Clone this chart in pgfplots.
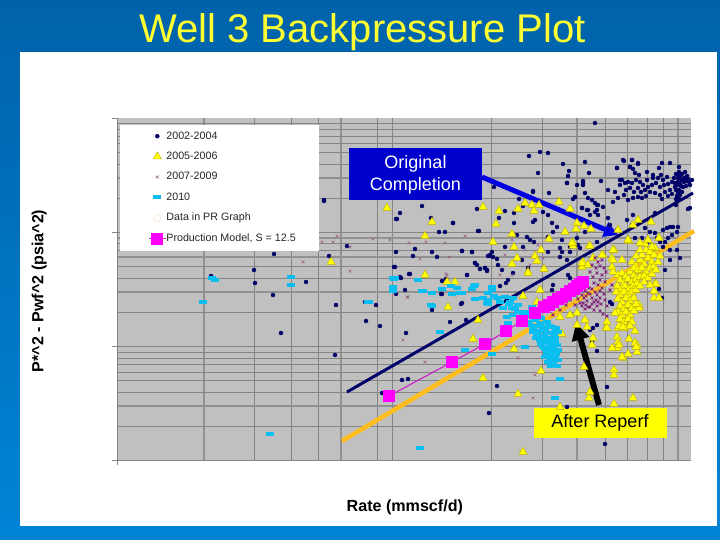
\documentclass[border=0pt]{standalone}
\usepackage{fontspec}
\setmainfont{Liberation Sans}
\usepackage{pgfplots}
\pgfplotsset{compat=1.18}
\usetikzlibrary{arrows.meta}

\definecolor{plotbg}{RGB}{192,192,192}
\definecolor{gridc}{RGB}{132,132,132}
\definecolor{gridh}{RGB}{145,145,145}
\definecolor{navyp}{RGB}{0,0,105}
\definecolor{yellowp}{RGB}{255,255,0}
\definecolor{yedge}{RGB}{190,175,10}
\definecolor{purplep}{RGB}{150,100,140}
\definecolor{purpled}{RGB}{130,35,125}
\definecolor{cyanp}{RGB}{10,190,240}
\definecolor{orangel}{RGB}{255,190,30}
\definecolor{arrowb}{RGB}{0,0,225}
\definecolor{boxb}{RGB}{0,0,205}
\definecolor{titley}{RGB}{255,255,50}
\definecolor{magentap}{RGB}{255,0,255}
\definecolor{magental}{RGB}{205,30,205}

% cyan dash of the 2010 series
\pgfdeclareplotmark{dash}{\pgfpathrectangle{\pgfpoint{-4pt}{-2pt}}{\pgfpoint{8pt}{4pt}}\pgfusepathqfill}

\begin{document}
\begin{tikzpicture}[x=1pt,y=1pt]
  \shade[top color={rgb,255:red,0;green,98;blue,170},bottom color={rgb,255:red,0;green,132;blue,214}]
    (0,0) rectangle (720,540);
  \useasboundingbox (0,0) rectangle (720,540);
  \fill[white] (20,14) rectangle (717,488);
  \node[text=titley,font=\fontsize{40}{44}\selectfont,anchor=base] at (362.5,497) {Well 3 Backpressure Plot};

  % the scale is log-log in the source but has no numbers: values are read as picture positions
  \begin{axis}[
    at={(117pt,80pt)},anchor=south west,
    scale only axis,width=574pt,height=342pt,
    xmin=117,xmax=691,ymin=118,ymax=460,y dir=reverse,
    clip=false,
    axis background/.style={fill=plotbg},
    axis line style={draw=gridc,line width=0.5pt},
    axis x line*=bottom,axis y line*=left,
    xtick={204,341,577,678},
    minor xtick={254,291,318,377,392,491,542,605,627,647,663},
    ytick={178,238,257,292,406},
    minor ytick={123,129,136,143,152,164,198,232,243,250,266,278,312,346,352,358,364,372,380,392,426},
    xticklabel=\empty,yticklabel=\empty,
    tick style={draw=none},
    grid=both,
    major grid style={draw=gridh,line width=1.5pt},
    minor grid style={draw=gridc,line width=0.7pt},
    extra y ticks={118,232,346,460},
    extra y tick labels={},
    extra x ticks={117},
    extra x tick labels={},
    extra tick style={grid=none,tick style={draw=gridc,line width=0.5pt},major tick length=5pt,tick align=outside},
    xlabel={\textbf{Rate (mmscf/d)}},
    ylabel={\textbf{P*\textasciicircum 2 - Pwf\textasciicircum 2 (psia\textasciicircum 2)}},
    label style={font=\fontsize{16.1}{18}\selectfont},
    x label style={at={(axis description cs:0.5015,-0.137)},anchor=center},
    y label style={at={(axis description cs:-0.1355,0.4945)},anchor=center,rotate=0},
    legend style={at={(axis cs:122,126)},anchor=north west,draw=none,fill=none,
      font=\fontsize{10.7}{12}\selectfont,text=black!85,
      inner xsep=26pt,inner ysep=5pt,row sep=10.4pt,
      nodes={inner sep=0pt,text height=8pt,text depth=2pt}},
    legend cell align=left,
  ]

  % 2002-2004
  \addplot[only marks,mark=*,mark size=2pt,color=navyp] coordinates {
    (595,123)(540,152)(529,156)(548,153)(538,173)(563,164)(585,162)(569,171)(589,173)(568,176)
    (567,183)(583,181)(601,181)(583,185)(533,191)(549,193)(575,197)(573,199)(324,200)(397,219)
    (347,246)(274,254)(329,256)(396,252)(395,267)(254,270)(211,276)(255,283)(306,282)(273,295)
    (336,305)(281,333)(335,355)(324,201)(422,206)(400,213)(396,219)(431,218)(453,223)(477,209)
    (439,232)(445,232)(479,231)(415,249)(413,256)(432,252)(437,257)(462,251)(472,252)(488,256)
    (394,267)(410,274)(401,278)(442,281)(446,279)(467,275)(475,263)(477,265)(480,269)(485,268)
    (487,271)(405,290)(396,294)(441,294)(365,302)(376,305)(461,304)(432,310)(366,321)(380,326)
    (406,333)(402,380)(408,379)(497,386)(489,413)(605,444)(607,387)(382,393)(450,322)(466,320)
    (462,303)(442,294)(409,274)(400,277)(513,273)(500,286)(506,283)(515,297)(593,328)(590,330)
    (597,325)(597,351)(592,342)(610,302)(612,304)(567,407)(659,289)(662,298)(553,285)(552,290)
    (568,275)(570,278)(494,187)(533,192)(567,183)(575,197)(585,193)(577,185)(583,183)(519,199)
    (505,211)(514,213)(523,206)(499,218)(543,212)(548,215)(535,220)(533,222)(514,223)(552,223)
    (557,227)(553,232)(562,240)(517,235)(527,237)(530,240)(534,242)(548,237)(505,247)(523,247)
    (548,252)(492,252)(490,256)(493,257)(497,259)(522,260)(560,248)(562,252)(560,257)(570,247)
    (570,252)(577,238)(578,245)(585,232)(580,248)(582,208)(588,210)(595,212)(590,215)(597,205)
    (598,215)(597,242)(567,260)(528,268)(485,268)(620,180)(623,160)(632,160)(638,163)(617,168)
    (630,167)(588,198)(592,200)(595,203)(598,205)(608,190)(615,192)(618,198)(613,202)(603,207)
    (597,210)(587,210)(582,208)(608,218)(610,225)(627,220)(633,215)(655,213)(632,225)(617,230)
    (663,230)(667,228)(670,227)(673,227)(678,227)(655,233)(657,238)(660,242)(677,232)(672,235)
    (668,238)(665,242)(650,232)(663,247)(670,250)(677,250)(680,258)(670,260)(665,270)(690,208)
    (645,228)(647,243)(642,238)(635,238)(453,223)(478,231)(462,251)(472,252)(475,263)(487,270)
    (467,275)(490,255)(502,270)(508,280)(498,265)
    (624,161)(632,160)(630,167)(638,164)(617,168)(633,169)(662,163)(670,163)(659,168)(679,167)
    (635,173)(639,175)(647,172)(653,175)(661,175)(622,180)
    (625,183)(620,185)(628,182)(632,183)(636,180)(640,182)(643,185)(630,188)(626,190)(624,195)
    (634,192)(638,188)(641,192)(645,190)(648,187)(652,185)(650,192)(646,196)(642,198)(638,197)
    (633,198)(628,200)(647,180)(653,178)(658,178)(663,180)(667,177)(664,185)(660,187)(656,183)
    (668,184)(672,182)(670,190)(665,192)(660,195)(655,193)(662,199)(668,196)(672,194)(676,190)
    (674,178)(676,174)(679,172)(682,174)(685,172)(678,178)(681,180)(684,178)(687,176)(680,184)
    (683,187)(677,185)(679,190)(682,192)(677,196)(689,182)(692,180)(686,186)(690,185)(677,201)
    (676,205)(688,209)(678,175)(680,176)(683,180)(675,183)(678,182)(681,186)(675,187)(678,193)
    (680,195)(684,182)(686,181)(688,179)(679,199)(676,199)
  };
  \addlegendentry{2002-2004}

  % 2005-2006
  \addplot[only marks,mark=triangle*,mark size=4.8pt,color=yedge,mark options={fill=yellowp,line width=0.4pt}] coordinates {
    (483,207)(499,211)(496,224)(512,234)(493,242)(514,247)(517,258)(512,264)(528,272)(535,256)
    (537,261)(541,250)(544,269)(549,239)(525,203)(532,205)(518,209)(534,211)(539,205)(559,202)
    (570,209)(565,232)(577,223)(576,229)(584,226)(591,229)(573,243)(573,246)(589,246)(583,262)
    (582,267)(588,265)(593,258)(603,255)(614,250)(612,258)(629,241)(618,230)(638,220)(633,225)
    (651,222)(659,238)(655,248)(455,282)(387,208)(432,222)(425,236)(331,262)(425,275)(447,282)
    (448,307)(478,320)(473,339)(514,349)(483,378)(518,394)(541,371)(523,452)(528,273)(540,290)
    (523,296)(537,302)(560,317)(562,334)(570,315)(577,313)(577,325)(585,320)(587,327)(593,338)
    (592,345)(584,367)(614,370)(614,375)(590,392)(589,398)(633,398)(614,404)(560,407)(635,331)
    (629,339)(637,345)(637,352)(628,354)(623,358)(617,337)(618,342)(617,348)(612,348)(606,328)
    (618,328)(639,305)(639,308)(654,298)(659,298)(655,284)(572,243)(628,240)(659,238)(590,246)
    (582,263)(602,255)(613,250)(613,260)(622,260)(612,267)(613,272)
    (618,275)(622,273)(626,276)(630,272)(634,275)(638,271)(620,280)(624,283)(628,279)(632,282)
    (636,279)(640,277)(617,286)(621,289)(625,286)(629,289)(633,286)(637,284)(616,292)(620,295)
    (624,292)(628,295)(632,292)(636,290)(618,299)(622,302)(626,298)(630,301)(634,298)(620,306)
    (624,309)(628,305)(632,308)(636,304)(618,312)(622,315)(626,312)(630,315)(634,311)(620,319)
    (624,322)(628,319)(632,322)(619,326)(625,328)(630,326)
    (632,262)(636,266)(640,260)(644,264)(648,258)(652,262)(642,255)(646,250)(650,252)(654,255)
    (636,256)(640,250)(634,268)(638,270)(642,268)(646,272)(650,268)(654,266)(644,276)(648,278)
    (652,274)(656,270)(658,262)(660,256)(645,244)(640,243)(652,247)(648,240)(656,284)(650,285)
    (644,282)(654,291)(640,286)
    (635,343)(636,347)(619,345)(622,357)(607,322)(607,328)(615,313)(623,327)
  };
  \addlegendentry{2005-2006}

  % 2007-2009
  \addplot[only marks,mark=x,mark size=2pt,color=purplep,mark options={line width=0.45pt}] coordinates {
    (337,236)(322,242)(333,242)(350,247)(373,239)(390,240)(409,243)(426,242)(445,243)(465,236)
    (420,259)(449,257)(350,271)(446,274)(408,297)(455,295)(303,262)(447,275)(407,297)(425,362)
    (403,340)(518,358)(535,375)(533,398)(512,275)(500,275)(505,255)(512,240)(525,250)(538,245)
    (530,265)(543,258)
  };
  \addlegendentry{2007-2009}
  \addplot[forget plot,only marks,mark=x,mark size=2pt,color=purpled,mark options={line width=1pt}] coordinates {
    (595,258)(598,262)(602,260)(592,265)(596,268)(600,266)(604,268)(606,272)(597,273)(602,275)
    (590,272)(593,277)(600,280)(605,282)(598,285)(594,283)(589,288)(585,291)(582,295)(578,299)
    (586,296)(590,294)(595,292)(600,291)(604,294)(592,298)(587,301)(583,303)(596,300)(600,298)
    (592,304)(597,306)(601,304)(605,300)(588,307)(594,310)(600,311)(603,314)(580,303)(585,309)
    (607,306)(607,316)(575,305)(570,300)(566,305)(560,310)(553,315)(610,290)(612,285)
    (584,298)(588,293)(592,289)(597,295)(594,302)(590,307)(586,305)(582,306)(598,302)(602,288)
  };

  % 2010
  \addplot[only marks,mark=dash,color=cyanp] coordinates {
    (394,279)(418,280)(393,287)(393,291)(422,291)(432,293)(442,289)(451,286)(457,288)(462,293)
    (472,289)(474,286)(475,299)(483,298)(488,293)(488,300)(488,304)(369,302)(432,306)(212,278)
    (215,280)(291,277)(291,285)(393,278)(203,302)(270,434)(395,278)(423,291)(452,294)(460,293)
    (475,285)(492,287)(492,290)(487,303)(431,305)(440,332)(465,350)(492,354)(525,347)(560,379)
    (555,398)(420,448)(368,302)
    (497,298)(500,302)(505,297)(510,302)(513,298)(503,308)(512,308)(518,305)(518,312)(507,317)
    (513,315)(523,315)(508,323)(528,322)(533,328)(540,323)(547,322)(537,335)(545,330)(552,327)
    (555,332)(540,340)(548,338)(555,338)(543,347)(550,345)(557,345)(547,353)(552,352)(550,360)
    (555,358)(548,362)(553,363)(525,312)(532,307)
    (530,316)(535,320)(541,318)(530,325)(536,326)(543,327)(549,326)(556,328)(533,332)(540,331)
    (547,333)(554,335)(558,332)(536,338)(544,336)(551,340)(541,344)(547,342)(555,342)(545,349)
    (553,348)(558,350)(549,356)(556,354)(551,366)(557,366)(545,357)(558,360)(515,309)(521,318)
    (509,304)(494,296)
  };
  \addlegendentry{2010}

  \addlegendimage{only marks,mark=o,mark size=3.6pt,color=black!15!orange!25}
  \addlegendentry{Data in PR Graph}

  % Production Model
  \addplot[color=magental,line width=1.1pt,mark=square*,mark size=5.5pt,mark options={color=magentap,fill=magentap}] coordinates {
    (389,396)(452,362)(485,344)(506,331)(522,321)(535,313)(544,307)(549,305)(553,302)(558,299)(562,297)(566,294)(570,291)(574,289)(577,286)(580,284)(583,282)
  };
  \addlegendentry{Production Model, S = 12.5}

  % trend lines
  \addplot[forget plot,color=navyp,line width=3pt] coordinates {(347,392)(693,193)};
  \addplot[forget plot,color=orangel,line width=4.5pt] coordinates {(342,441)(694,231)};

  % legend panel
  \fill[white] (axis cs:120,125) rectangle (axis cs:319,251);

  % callouts
  \draw[arrowb,line width=5pt,-{Triangle[length=14pt,width=15pt]}] (axis cs:482,177) -- (axis cs:618,235);
  \draw[black,line width=6pt,-{Triangle[length=17pt,width=17pt]}] (axis cs:599,405) -- (axis cs:576,323);
  \fill[boxb] (axis cs:349,148) rectangle (axis cs:482,200);
  \node[text=white,font=\fontsize{18}{21.5}\selectfont,align=center] at (axis cs:415.5,175) {Original\\Completion};
  \fill[yellowp] (axis cs:534,408) rectangle (axis cs:667,438);
  \node[text=black,font=\fontsize{18}{21}\selectfont] at (axis cs:600,423) {After Reperf};
  \end{axis}
\end{tikzpicture}
\end{document}
